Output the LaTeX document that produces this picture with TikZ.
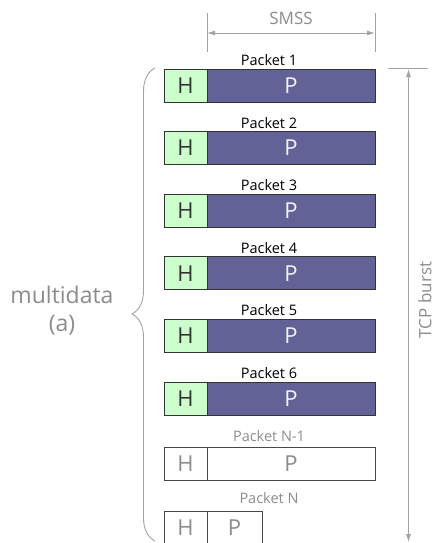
\documentclass[tikz,border=0pt]{standalone}
\usepackage{fontspec}
\setmainfont{Open Sans}
\usetikzlibrary{arrows.meta,decorations.pathreplacing}
\definecolor{hgreen}{HTML}{CCFFCC}
\definecolor{pblue}{HTML}{626296}
\definecolor{lgray}{HTML}{8C8C8C}
\definecolor{dgray}{HTML}{333333}
\begin{document}
\begin{tikzpicture}[x=1pt,y=-1pt,>={Latex[length=8pt,width=5pt]}]
        \tikzstyle{hdr}=[draw=dgray,thick,fill=hgreen,minimum width=43pt,minimum height=33pt,inner sep=0pt,text=dgray,font=\fontsize{22}{24}\selectfont]
        \tikzstyle{pay}=[draw=dgray,thick,fill=pblue,minimum width=168pt,minimum height=33pt,inner sep=0pt,text=white!92!pblue,font=\fontsize{22}{24}\selectfont]
        \tikzstyle{hdrlast}=[hdr,fill=white,draw=dgray!90,text=lgray]
        \tikzstyle{paylast}=[pay,fill=white,draw=dgray!90,text=lgray]
        \tikzstyle{lbl}=[inner sep=0pt,font=\fontsize{14.5}{16}\selectfont]
        \tikzstyle{dim}=[draw=lgray!80,line width=0.9pt]
        \useasboundingbox (0,0) rectangle (435,543);
       \begin{scope}
         % packets
         \node [lbl] (l1) at (269,60) {Packet 1};
         \node [hdr] (h1) at (185.5,85.5) {H};
         \node [pay] (p1) at (291,85.5) {P};
         \node [lbl] (l2) at (269,122.6) {Packet 2};
         \node [hdr] (h2) at (185.5,148.1) {H};
         \node [pay] (p2) at (291,148.1) {P};
         \node [lbl] (l3) at (269,185.2) {Packet 3};
         \node [hdr] (h3) at (185.5,210.7) {H};
         \node [pay] (p3) at (291,210.7) {P};
         \node [lbl] (l4) at (269,247.8) {Packet 4};
         \node [hdr] (h4) at (185.5,273.3) {H};
         \node [pay] (p4) at (291,273.3) {P};
         \node [lbl] (l5) at (269,310.4) {Packet 5};
         \node [hdr] (h5) at (185.5,335.9) {H};
         \node [pay] (p5) at (291,335.9) {P};
         \node [lbl] (l6) at (269,373) {Packet 6};
         \node [hdr] (h6) at (185.5,398.5) {H};
         \node [pay] (p6) at (291,398.5) {P};
         \node [lbl,text=lgray] (l7) at (269,436.5) {Packet N-1};
         \node [hdrlast] (h7) at (185.5,463.4) {H};
         \node [paylast] (p7) at (291,463.4) {P};
         \node [lbl,text=lgray] (l8) at (269,498) {Packet N};
         \node [hdrlast] (h8) at (185.5,527.5) {H};
         \node [paylast,minimum width=55pt] (p8) at (234.5,527.5) {P};

         % SMSS
         \coordinate (s1t) at (207,13);
         \coordinate (s1b) at (207,52);
         \coordinate (s2t) at (375,13);
         \coordinate (s2b) at (375,52);
         \coordinate (sa) at (207,33);
         \coordinate (sb) at (375,33);
         \path[dim] (s1t) -- (s1b);
         \path[dim] (s2t) -- (s2b);
         \path[dim,<->] (sa) -- (sb);
         \node [text=lgray,font=\fontsize{17}{19}\selectfont] (smss) at (291,18) {SMSS};

         % TCP burst
         \coordinate (tl) at (388,68.5);
         \coordinate (tr) at (428,68.5);
         \coordinate (ta) at (408.5,69);
         \coordinate (tb) at (408.5,542);
         \path[dim] (tl) -- (tr);
         \path[dim,<->] (ta) -- (tb);
         \node [text=lgray,rotate=90,inner sep=0pt,font=\fontsize{17}{19}\selectfont] (tcp) at (425,300) {TCP burst};

         % brace
         \coordinate (bt) at (155,68);
         \coordinate (bb) at (155,541);
         \path[dim,decorate,decoration={brace,amplitude=23pt,aspect=0.48}] (bb) -- (bt);
         \node [text=lgray,align=center,font=\fontsize{23}{28}\selectfont] (md) at (62,311) {multidata\\(a)};
        \end{scope}
      \end{tikzpicture}
\end{document}
